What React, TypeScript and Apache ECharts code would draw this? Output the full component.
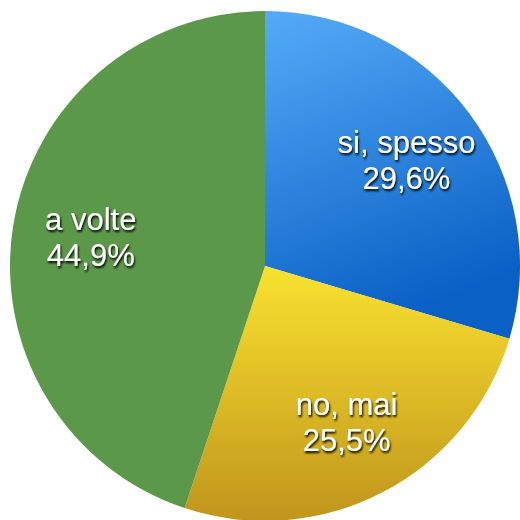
import React, { useEffect, useRef } from "react";
import * as echarts from "echarts";

const categories = ["si, spesso", "no, mai", "a volte"];
const values = [29.6, 25.5, 44.9];
const labels = ["29,6%", "25,5%", "44,9%"];

const fills = [
  new echarts.graphic.LinearGradient(0, 0, 0.3, 1, [
    { offset: 0, color: "#55abf8" },
    { offset: 1, color: "#0a60c4" },
  ]),
  new echarts.graphic.LinearGradient(0, 0, 0, 1, [
    { offset: 0, color: "#f9e22e" },
    { offset: 1, color: "#c0951c" },
  ]),
  "#5b9849",
];

export default function App() {
  const ref = useRef<HTMLDivElement>(null);
  useEffect(() => {
    if (!ref.current) return;
    const chart = echarts.init(ref.current, undefined, { renderer: "svg" });
    const center = [265, 266];
    const data = categories.map((name, i) => ({
      name,
      value: values[i],
      itemStyle: { color: fills[i] },
    }));
    chart.setOption({
      animation: false,
      series: [
        {
          type: "pie",
          center,
          radius: [0, 255],
          startAngle: 90,
          clockwise: true,
          silent: true,
          label: { show: false },
          labelLine: { show: false },
          data,
        },
        {
          type: "pie",
          center,
          radius: [92, 255],
          startAngle: 90,
          clockwise: true,
          silent: true,
          itemStyle: { color: "transparent" },
          labelLine: { show: false },
          label: {
            show: true,
            position: "inside",
            formatter: (p: any) => `${p.name}\n${labels[p.dataIndex]}`,
            color: "#ffffff",
            fontFamily: "Liberation Sans, Arial, sans-serif",
            fontSize: 31,
            lineHeight: 36,
            textShadowColor: "rgba(0,0,0,1)",
            textShadowBlur: 2,
            textShadowOffsetX: 1,
            textShadowOffsetY: 2,
          },
          data: categories.map((name, i) => ({ name, value: values[i] })),
        },
      ],
    });
    return () => chart.dispose();
  }, []);
  return (
    <div
      ref={ref}
      style={{ position: "fixed", left: 0, top: 0, width: 520, height: 520 }}
    />
  );
}
